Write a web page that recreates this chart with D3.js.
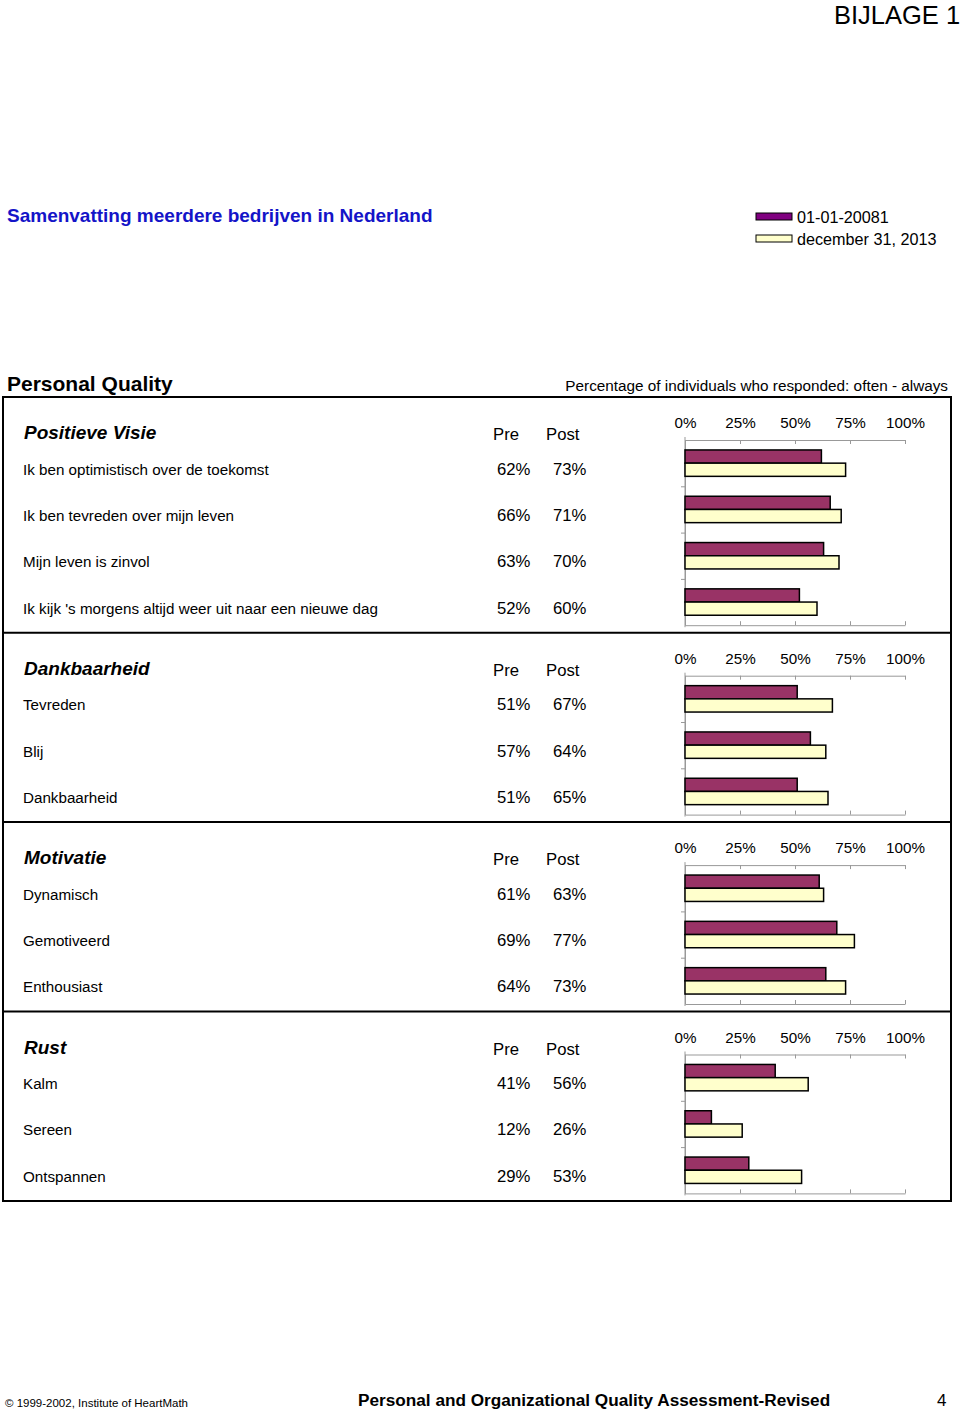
<!DOCTYPE html>
<html>
<head>
<meta charset="utf-8">
<script src="https://cdn.jsdelivr.net/npm/d3@7"></script>
<style>
  html, body { margin: 0; padding: 0; background: #fff; }
  svg { display: block; font-family: "Liberation Sans", Arial, Helvetica, sans-serif; }
</style>
</head>
<body>
<svg id="chart" width="960" height="1411"></svg>
<script>
// ---------- DATA ----------
const sectionTitles = ["Positieve Visie", "Dankbaarheid", "Motivatie", "Rust"];
const itemLabels = [
  ["Ik ben optimistisch over de toekomst", "Ik ben tevreden over mijn leven", "Mijn leven is zinvol", "Ik kijk 's morgens altijd weer uit naar een nieuwe dag"],
  ["Tevreden", "Blij", "Dankbaarheid"],
  ["Dynamisch", "Gemotiveerd", "Enthousiast"],
  ["Kalm", "Sereen", "Ontspannen"]
];
const preValues  = [[62, 66, 63, 52], [51, 57, 51], [61, 69, 64], [41, 12, 29]];
const postValues = [[73, 71, 70, 60], [67, 64, 65], [63, 77, 73], [56, 26, 53]];
const seriesKeys = ["pre", "post"];
const seriesNames = ["01-01-20081", "december 31, 2013"];
const tickValues = [0, 25, 50, 75, 100];
const columnHeaders = ["Pre", "Post"];

// ---------- STYLE / LAYOUT ----------
const svg = d3.select("#chart");
const preColor = "#993366", postColor = "#FFFFCC", legendPreColor = "#800080";
const axisColor = "#999";
const frameLeft = 3, frameRight = 951;
const x0 = 685, x1 = 905;
const rowH = 46.3;
const x = d3.scaleLinear().domain([0, 100]).range([x0, x1]);

// Header texts
svg.append("text").attr("x", 834).attr("y", 24).attr("font-size", 25.5).text("BIJLAGE 1");
svg.append("text").attr("x", 7).attr("y", 222).attr("font-size", 19).attr("font-weight", "bold")
  .attr("fill", "#1414c8").text("Samenvatting meerdere bedrijven in Nederland");

// Legend
const legend = svg.append("g");
seriesNames.forEach((name, i) => {
  const yy = 213 + i * 22;
  legend.append("rect").attr("x", 756).attr("y", yy).attr("width", 36).attr("height", 7)
    .attr("fill", i === 0 ? legendPreColor : postColor).attr("stroke", "#000").attr("stroke-width", 1);
  legend.append("text").attr("x", 797).attr("y", yy + 10).attr("font-size", 16.2).text(name);
});

svg.append("text").attr("x", 7).attr("y", 391).attr("font-size", 21).attr("font-weight", "bold").text("Personal Quality");
svg.append("text").attr("x", 948).attr("y", 391).attr("font-size", 15.3).attr("text-anchor", "end")
  .text("Percentage of individuals who responded: often - always");

// Sections
let secTop = 397;
const frameTop = secTop;
sectionTitles.forEach((title, si) => {
  const n = itemLabels[si].length;
  const axisTop = secTop + 43;
  const axisBottom = axisTop + n * rowH;
  const secBottom = axisBottom + 7.5;
  const g = svg.append("g");

  const rows = itemLabels[si].map((lab, i) => ({ label: lab, pre: preValues[si][i], post: postValues[si][i] }));
  const y = d3.scaleBand().domain(rows.map(r => r.label)).range([axisTop, axisBottom])
    .paddingInner(0.43).paddingOuter(0.215);
  const ySub = d3.scaleBand().domain(seriesKeys).range([0, y.bandwidth()]).padding(0);
  const yLin = d3.scaleLinear().domain([0, n]).range([axisTop, axisBottom]);

  // texts
  g.append("text").attr("x", 24).attr("y", axisTop - 1).attr("font-size", 19)
    .attr("font-weight", "bold").attr("font-style", "italic").text(title);
  g.append("text").attr("x", 493).attr("y", axisTop).attr("font-size", 16.7).text(columnHeaders[0]);
  g.append("text").attr("x", 546).attr("y", axisTop).attr("font-size", 16.7).text(columnHeaders[1]);

  rows.forEach(r => {
    const cy = y(r.label) + y.bandwidth() / 2;
    g.append("text").attr("x", 23).attr("y", cy + 11.5).attr("font-size", 15.2).text(r.label);
    g.append("text").attr("x", 497).attr("y", cy + 11.5).attr("font-size", 16.7).text(r.pre + "%");
    g.append("text").attr("x", 553).attr("y", cy + 11.5).attr("font-size", 16.7).text(r.post + "%");
  });

  // axes
  const top = g.append("g").attr("transform", `translate(0,${axisTop})`)
    .call(d3.axisTop(x).tickValues(tickValues).tickFormat(d => d + "%").tickSize(-4).tickSizeOuter(0).tickPadding(12));
  top.selectAll("text").attr("font-size", 15.2).attr("font-family", null).attr("fill", "#000");
  const bot = g.append("g").attr("transform", `translate(0,${axisBottom})`)
    .call(d3.axisBottom(x).tickValues(tickValues).tickFormat("").tickSize(-4).tickSizeOuter(0));
  const left = g.append("g").attr("transform", `translate(${x0},0)`)
    .call(d3.axisLeft(yLin).tickValues(d3.range(1, n)).tickFormat("").tickSize(4).tickSizeOuter(0));
  [top, bot, left].forEach(a => {
    a.selectAll("path, line").attr("stroke", axisColor).attr("stroke-width", 1);
  });
  g.append("line").attr("x1", x0).attr("x2", x0).attr("y1", axisTop - 3).attr("y2", axisBottom + 2)
    .attr("stroke", axisColor);

  // bars
  const bars = g.append("g");
  rows.forEach(r => {
    seriesKeys.forEach((k, ki) => {
      bars.append("rect")
        .attr("x", x(0))
        .attr("y", y(r.label) + ySub(k))
        .attr("width", x(r[k]) - x(0))
        .attr("height", ySub.bandwidth())
        .attr("fill", ki === 0 ? preColor : postColor)
        .attr("stroke", "#000").attr("stroke-width", 1.5);
    });
  });

  // section bottom line
  svg.append("line").attr("x1", frameLeft).attr("x2", frameRight).attr("y1", secBottom).attr("y2", secBottom)
    .attr("stroke", "#000").attr("stroke-width", 2);
  secTop = secBottom;
});

// frame
svg.append("line").attr("x1", frameLeft).attr("x2", frameRight).attr("y1", frameTop).attr("y2", frameTop)
  .attr("stroke", "#000").attr("stroke-width", 2);
svg.append("line").attr("x1", frameLeft).attr("x2", frameLeft).attr("y1", frameTop - 1).attr("y2", secTop + 1)
  .attr("stroke", "#000").attr("stroke-width", 2);
svg.append("line").attr("x1", frameRight).attr("x2", frameRight).attr("y1", frameTop - 1).attr("y2", secTop + 1)
  .attr("stroke", "#000").attr("stroke-width", 2);

// footer
svg.append("text").attr("x", 5).attr("y", 1407).attr("font-size", 11.5).text("© 1999-2002, Institute of HeartMath");
svg.append("text").attr("x", 358).attr("y", 1406).attr("font-size", 17.2).attr("font-weight", "bold")
  .text("Personal and Organizational Quality Assessment-Revised");
svg.append("text").attr("x", 937).attr("y", 1406).attr("font-size", 17).text("4");
</script>
</body>
</html>
